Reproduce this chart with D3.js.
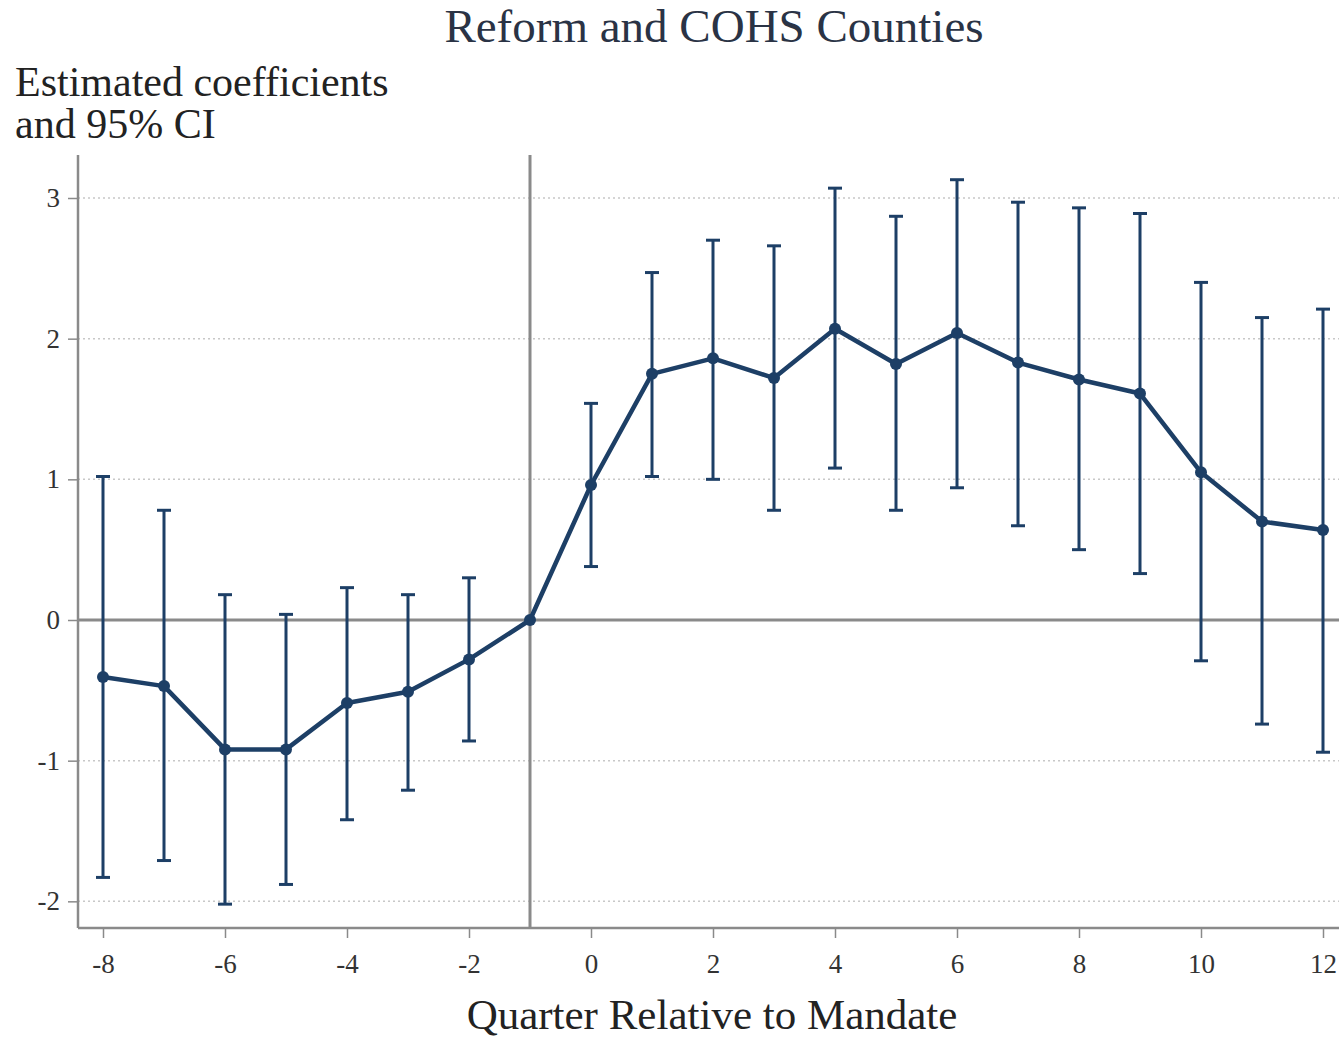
<!DOCTYPE html>
<html><head><meta charset="utf-8">
<script src="https://cdn.jsdelivr.net/npm/d3@7"></script>
<style>body{margin:0;background:#fff}svg{display:block}</style>
</head><body>
<svg id="chart" width="1339" height="1037"></svg>
<script>
const quarters = [-8,-7,-6,-5,-4,-3,-2,-1,0,1,2,3,4,5,6,7,8,9,10,11,12];
const coef =  [-0.405,-0.47,-0.92,-0.92,-0.59,-0.51,-0.28,0,0.96,1.75,1.86,1.72,2.07,1.82,2.04,1.83,1.71,1.61,1.05,0.70,0.64];
const ciLow = [-1.83,-1.71,-2.02,-1.88,-1.42,-1.21,-0.86,null,0.38,1.02,1.00,0.78,1.08,0.78,0.94,0.67,0.50,0.33,-0.29,-0.74,-0.94];
const ciHigh= [1.02,0.78,0.18,0.04,0.23,0.18,0.30,null,1.54,2.47,2.70,2.66,3.07,2.87,3.13,2.97,2.93,2.89,2.40,2.15,2.21];
const xTicks = [-8,-6,-4,-2,0,2,4,6,8,10,12];
const yTicks = [-2,-1,0,1,2,3];
const gridY = [-2,-1,1,2,3];
const titleText = "Reform and COHS Counties";
const yLabel = ["Estimated coefficients","and 95% CI"];
const xLabel = "Quarter Relative to Mandate";

(function(){
const svg = d3.select("#chart");
const font = "'Liberation Serif','Times New Roman',serif";
const navy = "#1d3f66";
const pLeft = 78, pBottom = 928, pTop = 155, pRight = 1339;
const x = d3.scaleLinear().domain([-8,12]).range([103,1323]);
const y = d3.scaleLinear().domain([0,3]).range([620,198]);
const fmt = d => String(d);

svg.append("g").selectAll("line").data(gridY).join("line")
  .attr("x1",pLeft).attr("x2",pRight).attr("y1",d=>y(d)).attr("y2",d=>y(d))
  .attr("stroke","#c8c8c8").attr("stroke-width",1.5).attr("stroke-dasharray","2,3");

svg.append("line").attr("x1",pLeft).attr("x2",pRight).attr("y1",y(0)).attr("y2",y(0))
  .attr("stroke","#8a8a8a").attr("stroke-width",3);
svg.append("line").attr("x1",x(-1)).attr("x2",x(-1)).attr("y1",pTop).attr("y2",pBottom)
  .attr("stroke","#8a8a8a").attr("stroke-width",3);

const yAxis = d3.axisLeft(y).tickValues(yTicks).tickSize(10).tickPadding(8).tickFormat(fmt);
const gy = svg.append("g").attr("transform",`translate(${pLeft},0)`).call(yAxis);
gy.select(".domain").remove();
gy.append("line").attr("x1",0).attr("x2",0).attr("y1",pTop).attr("y2",pBottom).attr("stroke","#8a8a8a").attr("stroke-width",2.5);
gy.selectAll(".tick line").attr("stroke","#8a8a8a").attr("stroke-width",1.5);
gy.selectAll(".tick text").attr("font-family",font).attr("font-size",27).attr("fill","#333");

const xAxis = d3.axisBottom(x).tickValues(xTicks).tickSize(10).tickPadding(16).tickFormat(fmt);
const gx = svg.append("g").attr("transform",`translate(0,${pBottom})`).call(xAxis);
gx.select(".domain").remove();
gx.append("line").attr("x1",pLeft).attr("x2",pRight).attr("y1",0).attr("y2",0).attr("stroke","#8a8a8a").attr("stroke-width",2.5);
gx.selectAll(".tick line").attr("stroke","#8a8a8a").attr("stroke-width",1.5);
gx.selectAll(".tick text").attr("font-family",font).attr("font-size",27).attr("fill","#333");

const data = quarters.map((q,i)=>({q,c:coef[i],lo:ciLow[i],hi:ciHigh[i]}));
const eb = data.filter(d=>d.lo!==null);
const gE = svg.append("g").attr("stroke",navy).attr("stroke-width",3);
gE.selectAll("line.v").data(eb).join("line").attr("class","v")
  .attr("x1",d=>x(d.q)).attr("x2",d=>x(d.q)).attr("y1",d=>y(d.lo)).attr("y2",d=>y(d.hi));
gE.selectAll("line.t").data(eb).join("line").attr("class","t")
  .attr("x1",d=>x(d.q)-7).attr("x2",d=>x(d.q)+7).attr("y1",d=>y(d.hi)).attr("y2",d=>y(d.hi));
gE.selectAll("line.b").data(eb).join("line").attr("class","b")
  .attr("x1",d=>x(d.q)-7).attr("x2",d=>x(d.q)+7).attr("y1",d=>y(d.lo)).attr("y2",d=>y(d.lo));

svg.append("path").datum(data)
  .attr("d",d3.line().x(d=>x(d.q)).y(d=>y(d.c)))
  .attr("fill","none").attr("stroke",navy).attr("stroke-width",4.5).attr("stroke-linejoin","round");
svg.append("g").selectAll("circle").data(data).join("circle")
  .attr("cx",d=>x(d.q)).attr("cy",d=>y(d.c)).attr("r",6).attr("fill",navy);

svg.append("text").attr("x",714).attr("y",42).attr("text-anchor","middle")
  .attr("font-family",font).attr("font-size",47).attr("fill","#2a3345").text(titleText);
svg.append("text").attr("font-family",font).attr("font-size",42).attr("fill","#222")
  .selectAll("tspan").data(yLabel).join("tspan")
  .attr("x",15).attr("y",(d,i)=>96+i*42).text(d=>d);
svg.append("text").attr("x",712).attr("y",1029).attr("text-anchor","middle")
  .attr("font-family",font).attr("font-size",43).attr("fill","#222").text(xLabel);
})();
</script>
</body></html>
